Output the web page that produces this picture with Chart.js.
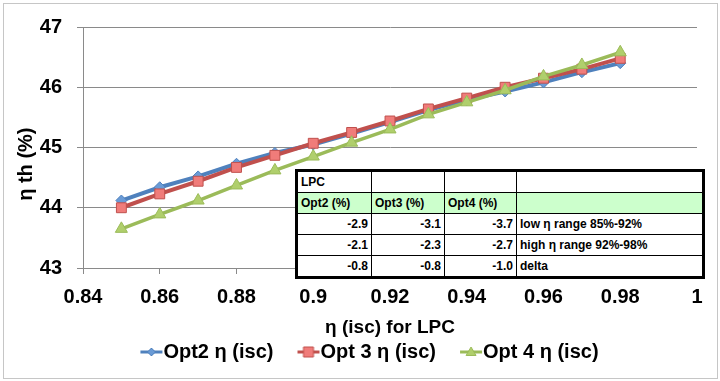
<!DOCTYPE html>
<html>
<head>
<meta charset="utf-8">
<script src="https://cdn.jsdelivr.net/npm/chart.js@4.4.1/dist/chart.umd.min.js"></script>
<style>
body { margin: 0; background: #fff; }
#wrap { position: relative; width: 720px; height: 381px; }
#frame { position: absolute; left: 3px; top: 3px; width: 713px; height: 374px; border: 1px solid #c6c6c6; pointer-events: none; }
#tbl { position: absolute; left: 295px; top: 169px; width: 410px; border-collapse: collapse; border: 3px solid #000; font: bold 12px "Liberation Sans", sans-serif; background: #fff; color: #000; }
#tbl td { border: 1px solid #000; height: 20px; padding: 0 3px; line-height: 16px; }
#tbl td.n { text-align: right; }
#tbl tr.hd td { background: #ccffcc; }
</style>
</head>
<body>
<div id="wrap">
  <canvas id="effChart" width="720" height="381"></canvas>
  <div id="frame"></div>
  <table id="tbl"></table>
</div>
<script>
// LPC isentropic efficiency
const etaIsc = [0.85, 0.86, 0.87, 0.88, 0.89, 0.90, 0.91, 0.92, 0.93, 0.94, 0.95, 0.96, 0.97, 0.98];
const opt2 = [44.12, 44.34, 44.52, 44.73, 44.91, 45.05, 45.23, 45.42, 45.62, 45.79, 45.93, 46.08, 46.25, 46.40];
const opt3 = [44.00, 44.23, 44.44, 44.67, 44.87, 45.07, 45.25, 45.44, 45.64, 45.82, 46.00, 46.15, 46.30, 46.48];
const opt4 = [43.65, 43.89, 44.12, 44.37, 44.62, 44.85, 45.08, 45.30, 45.55, 45.75, 45.95, 46.18, 46.37, 46.58];
const xTicks = [0.84, 0.86, 0.88, 0.90, 0.92, 0.94, 0.96, 0.98, 1.00];
const xTickLabels = ['0.84', '0.86', '0.88', '0.9', '0.92', '0.94', '0.96', '0.98', '1'];
const yTicks = [43, 44, 45, 46, 47];

// overlay table
const tblHead = ['Opt2 (%)', 'Opt3 (%)', 'Opt4 (%)', ''];
const tblLow = [-2.9, -3.1, -3.7];
const tblHigh = [-2.1, -2.3, -2.7];
const tblDelta = [-0.8, -0.8, -1.0];
const tblNotes = ['low η range 85%-92%', 'high η range 92%-98%', 'delta'];

const tbl = document.getElementById('tbl');
let html = '<colgroup><col style="width:75px"><col style="width:73px"><col style="width:72px"><col></colgroup>';
html += '<tr><td>LPC</td><td></td><td></td><td></td></tr>';
html += '<tr class="hd">' + tblHead.map(h => '<td>' + h + '</td>').join('') + '</tr>';
[tblLow, tblHigh, tblDelta].forEach((row, i) => {
    html += '<tr>' + row.map(v => '<td class="n">' + v.toFixed(1) + '</td>').join('') + '<td>' + tblNotes[i] + '</td></tr>';
});
tbl.innerHTML = html;

// legend marker: short line with the point marker, sitting just before the text
function legendMark(line, fill, style, r) {
    const c = document.createElement('canvas');
    c.width = 54; c.height = 14;
    const g = c.getContext('2d');
    g.strokeStyle = line; g.lineWidth = 3;
    g.beginPath(); g.moveTo(31, 7); g.lineTo(53, 7); g.stroke();
    g.fillStyle = fill; g.strokeStyle = line; g.lineWidth = 1;
    g.beginPath();
    const cx = 42;
    if (style === 'diamond') { g.moveTo(cx, 7 - r); g.lineTo(cx + r, 7); g.lineTo(cx, 7 + r); g.lineTo(cx - r, 7); }
    else if (style === 'square') { g.rect(cx - r, 7 - r, 2 * r, 2 * r); }
    else { g.moveTo(cx, 7 - r); g.lineTo(cx + r, 7 + r * 0.7); g.lineTo(cx - r, 7 + r * 0.7); }
    g.closePath(); g.fill(); g.stroke();
    return c;
}
const marks = [
    legendMark('#4f81bd', '#6a9bd6', 'diamond', 4),
    legendMark('#c0504d', '#f07c7a', 'square', 5),
    legendMark('#9bbb59', '#b0cf6c', 'triangle', 5)
];

// nudge the legend left, like the original
const legendShift = {
    id: 'legendShift',
    afterLayout(chart) {
        chart.legend.left -= 31;
        chart.legend.right -= 31;
    }
};

Chart.defaults.font.family = '"Liberation Sans", sans-serif';
Chart.defaults.color = '#000';

const ctx = document.getElementById('effChart');
new Chart(ctx, {
    type: 'line',
    data: {
        datasets: [{
            label: 'Opt2 η (isc)',
            data: etaIsc.map((x, i) => ({ x: x, y: opt2[i] })),
            borderColor: '#4f81bd',
            backgroundColor: '#6a9bd6',
            borderWidth: 4,
            pointStyle: 'rectRot',
            pointRadius: 5.5,
            pointBorderColor: '#4f81bd',
            pointBorderWidth: 1,
            order: 3
        }, {
            label: 'Opt 3 η (isc)',
            data: etaIsc.map((x, i) => ({ x: x, y: opt3[i] })),
            borderColor: '#c0504d',
            backgroundColor: '#f07c7a',
            borderWidth: 4,
            pointStyle: 'rect',
            pointRadius: 7,
            pointBorderColor: '#c0504d',
            pointBorderWidth: 1,
            order: 2
        }, {
            label: 'Opt 4 η (isc)',
            data: etaIsc.map((x, i) => ({ x: x, y: opt4[i] })),
            borderColor: '#9bbb59',
            backgroundColor: '#b0cf6c',
            borderWidth: 3.5,
            pointStyle: 'triangle',
            pointRadius: 7,
            pointBorderColor: '#9bbb59',
            pointBorderWidth: 1,
            order: 1
        }]
    },
    options: {
        responsive: false,
        animation: false,
        layout: { padding: { top: 23, right: 23, left: 0, bottom: 9 } },
        plugins: {
            tooltip: { enabled: false },
            legend: {
                position: 'bottom',
                fullSize: false,
                labels: {
                    usePointStyle: true,
                    pointStyleWidth: 34,
                    padding: 3,
                    font: { size: 20, weight: 'bold' },
                    sort: (a, b) => a.datasetIndex - b.datasetIndex,
                    generateLabels: chart => {
                        const items = Chart.defaults.plugins.legend.labels.generateLabels(chart);
                        items.forEach(it => { it.pointStyle = marks[it.datasetIndex]; });
                        return items;
                    }
                }
            }
        },
        scales: {
            x: {
                type: 'linear',
                min: 0.84,
                max: 1,
                afterFit: s => { s.height = 71; },
                afterBuildTicks: s => { s.ticks = xTicks.map(v => ({ value: v })); },
                ticks: {
                    padding: 11,
                    maxRotation: 0,
                    font: { size: 20, weight: 'bold' },
                    callback: (v, i) => xTickLabels[i]
                },
                grid: { drawOnChartArea: false, color: '#8a8a8a', tickLength: 6 },
                border: { color: '#8a8a8a' },
                title: {
                    display: true,
                    text: 'η (isc) for LPC',
                    font: { size: 19, weight: 'bold' },
                    padding: { top: 0, bottom: 0 }
                }
            },
            y: {
                min: 43,
                max: 47,
                afterFit: s => { s.width = 83; },
                afterBuildTicks: s => { s.ticks = yTicks.map(v => ({ value: v })); },
                ticks: { padding: 15, font: { size: 20, weight: 'bold' } },
                grid: { color: '#8a8a8a', tickLength: 6 },
                border: { color: '#8a8a8a' },
                title: {
                    display: true,
                    text: 'η th (%)      ',
                    font: { size: 20, weight: 'bold' },
                    padding: { top: 14, bottom: 0 }
                }
            }
        }
    },
    plugins: [legendShift]
});
</script>
</body>
</html>
